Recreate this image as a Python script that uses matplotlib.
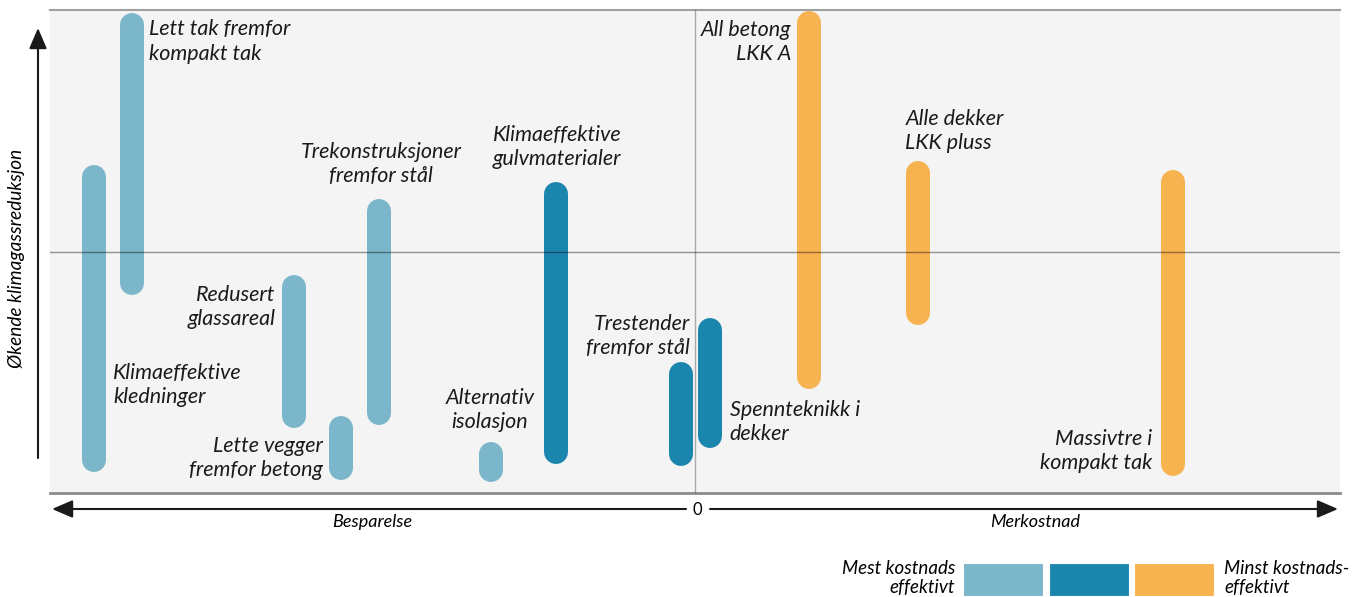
import matplotlib
matplotlib.use('Agg')
import matplotlib.pyplot as plt
from matplotlib.patches import Rectangle

plt.rcParams['font.family'] = ['Lato', 'DejaVu Sans']
plt.rcParams['font.style'] = 'italic'

# Tiltak: kostnad (x, -100..100) og spenn i klimagassreduksjon (y, -100..100)
tiltak = [
    'Klimaeffektive\nkledninger',
    'Lett tak fremfor\nkompakt tak',
    'Redusert\nglassareal',
    'Lette vegger\nfremfor betong',
    'Trekonstruksjoner\nfremfor stål',
    'Alternativ\nisolasjon',
    'Klimaeffektive\ngulvmaterialer',
    'Trestender\nfremfor stål',
    'Spennteknikk i\ndekker',
    'All betong\nLKK A',
    'Alle dekker\nLKK pluss',
    'Massivtre i\nkompakt tak',
]
kostnad = [-93.2, -87.3, -62.2, -54.9, -49.0, -31.6, -21.6, -2.2, 2.3, 17.7, 34.6, 74.1]
reduksjon_hoy = [35.8, 98.8, -9.7, -68.1, 21.7, -78.9, 28.8, -45.8, -27.5, 99.6, 37.5, 33.7]
reduksjon_lav = [-91.3, -18.0, -73.0, -94.6, -71.8, -95.5, -88.0, -88.8, -81.4, -56.9, -30.4, -93.0]
kostnadseffektivitet = [0, 0, 0, 0, 0, 0, 1, 1, 1, 2, 2, 2]

# label placement (data coords) and alignment
label_pos = [
    (-90.2, -55.3, 'left'),
    (-84.7, 87.0, 'left'),
    (-65.0, -23.0, 'right'),
    (-57.7, -85.5, 'right'),
    (-48.7, 36.2, 'center'),
    (-31.8, -65.6, 'center'),
    (-21.4, 43.3, 'center'),
    (-0.8, -35.0, 'right'),
    (5.4, -70.6, 'left'),
    (14.9, 86.7, 'right'),
    (32.6, 49.9, 'left'),
    (70.9, -82.6, 'right'),
]

colors = ['#7BB6CB', '#1B86AD', '#F7B350']

W, H = 1352, 597
fig = plt.figure(figsize=(W / 100, H / 100), dpi=100)
ax = fig.add_axes([50 / W, 1 - 493 / H, 1290 / W, 483 / H])
ax.set_xlim(-100, 100)
ax.set_ylim(-100, 100)
ax.set_facecolor('#F4F4F4')
for s in ['left', 'right']:
    ax.spines[s].set_visible(False)
ax.spines['top'].set_color('#A0A0A0')
ax.spines['top'].set_linewidth(1.5)
ax.spines['bottom'].set_color('#8C8C8C')
ax.spines['bottom'].set_linewidth(2)
ax.set_xticks([])
ax.set_yticks([])

# bars with round caps
bar_px = 24
cap = (bar_px / 2) * 200 / 483
for x, hi, lo, g in zip(kostnad, reduksjon_hoy, reduksjon_lav, kostnadseffektivitet):
    ax.plot([x, x], [lo + cap, hi - cap], color=colors[g], lw=bar_px * 0.72,
            solid_capstyle='round', zorder=2)

ax.axhline(0, color='black', alpha=0.4, lw=1, zorder=3)
ax.axvline(0, color='black', alpha=0.3, lw=1, zorder=3)

for name, (lx, ly, ha) in zip(tiltak, label_pos):
    ax.text(lx, ly, name, ha=ha, va='center', multialignment=ha,
            fontsize=15.5, linespacing=1.28, color='#1a1a1a', zorder=4)

# axis arrows
arrow = dict(arrowstyle='-|>,head_length=0.7,head_width=0.3', color='#1a1a1a', lw=1.5,
             mutation_scale=18, shrinkA=0, shrinkB=0)
ax.annotate('', xy=(38, H - 28), xytext=(38, H - 458), xycoords='figure pixels',
            textcoords='figure pixels', arrowprops=arrow, annotation_clip=False)
ax.annotate('', xy=(52, H - 509), xytext=(686, H - 509), xycoords='figure pixels',
            textcoords='figure pixels', arrowprops=arrow, annotation_clip=False)
ax.annotate('', xy=(1338, H - 509), xytext=(710, H - 509), xycoords='figure pixels',
            textcoords='figure pixels', arrowprops=arrow, annotation_clip=False)

fig.text(697 / W, 1 - 510 / H, '0', ha='center', va='center', fontsize=12, style='normal')
fig.text(372 / W, 1 - 522 / H, 'Besparelse', ha='center', va='center', fontsize=13)
fig.text(1035 / W, 1 - 522 / H, 'Merkostnad', ha='center', va='center', fontsize=13)
fig.text(17 / W, 1 - 258 / H, 'Økende klimagassreduksjon', ha='center', va='center',
         rotation=90, fontsize=13.7)

# legend
for i, c in enumerate(colors):
    fig.patches.append(Rectangle(((963 + i * 85.5) / W, 1 - 596 / H), 80 / W, 33 / H,
                                 transform=fig.transFigure, facecolor=c, edgecolor='white', lw=0.8))
fig.text(955 / W, 1 - 578 / H, 'Mest kostnads\neffektivt', ha='right', va='center',
         multialignment='right', fontsize=13.5, linespacing=1.2)
fig.text(1224 / W, 1 - 578 / H, 'Minst kostnads-\neffektivt', ha='left', va='center',
         multialignment='left', fontsize=13.5, linespacing=1.2)

fig.savefig('out.png', dpi=100)
